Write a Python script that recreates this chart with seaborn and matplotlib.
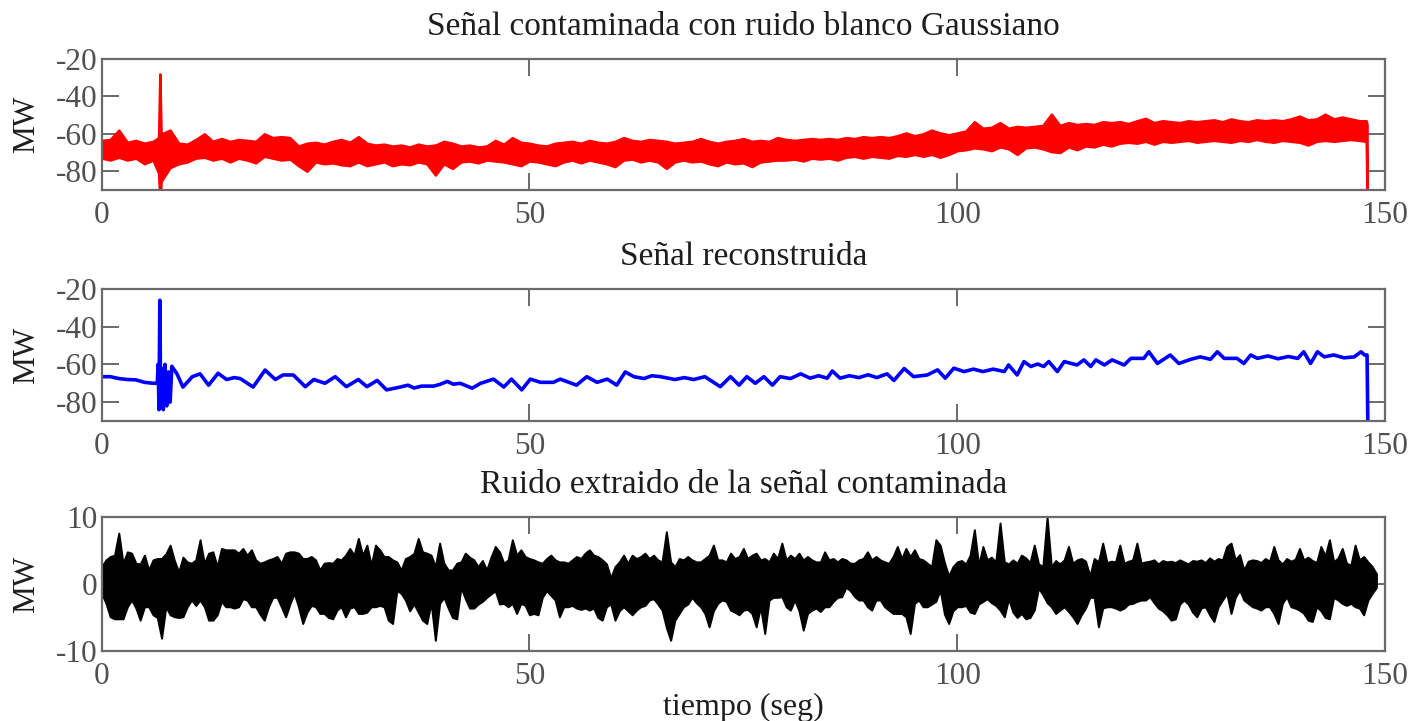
import numpy as np
import pandas as pd
import matplotlib
matplotlib.use("Agg")
import matplotlib.pyplot as plt
import seaborn as sns

# ---------------- data ----------------
titles = ["Señal contaminada con ruido blanco Gaussiano",
          "Señal reconstruida",
          "Ruido extraido de la señal contaminada"]
x_ticks = [0, 50, 100, 150]
y_ticks_signal = [-80, -60, -40, -20]
y_ticks_noise = [-10, 0, 10]

# contaminated signal (red): upper / lower envelope, 1-s grid (t = 0..147)
red_t = list(range(148))
red_hi = [-63.5, -63, -58, -64.5, -63.5, -65, -64, -60, -58, -65,
          -65.5, -63, -60, -64, -62.5, -64, -63, -63.5, -64, -60,
          -62, -61.5, -62, -66.5, -65, -64.5, -65.5, -64, -63, -64.5,
          -61.5, -65, -66, -65.5, -66.5, -66, -67, -65.5, -66.5, -66,
          -64, -65, -66.5, -66, -67, -66.5, -63.5, -65.5, -62, -64.5,
          -65, -66, -66.5, -65, -64.5, -64, -65, -63.5, -64.5, -65,
          -64, -62, -63.5, -64, -63, -63.5, -64, -65, -64.5, -64,
          -62.5, -64, -65, -64, -63.5, -62.5, -64, -63.5, -64, -62,
          -63, -63.5, -63, -62.5, -63, -62.5, -63, -62, -62.5, -61.5,
          -62, -61.5, -62, -61, -59.5, -61, -60, -58, -59.5, -60.5,
          -59.5, -58.5, -53.5, -57, -56.5, -54, -57, -56, -56.5, -56,
          -55.5, -49.5, -55.5, -54, -55, -54.5, -55, -53.5, -54, -53.5,
          -54.5, -53, -51.7, -54, -53, -53.5, -54, -53, -53.5, -53,
          -52.5, -53.5, -52, -53, -53.5, -52.5, -53, -52.5, -53, -52,
          -50.5, -52.5, -52, -49.5, -52, -51, -52, -53]
red_lo = [-73, -74, -72.5, -74, -73, -76, -74, -85, -78, -76,
          -75, -73, -72.5, -74, -73, -75, -73, -74, -75.5, -72,
          -73, -74, -73.5, -77, -80, -75, -76, -75.5, -76.5, -77,
          -75, -77, -76, -75, -77, -76, -76.5, -75, -76, -82,
          -76, -78.5, -75, -74.5, -75.5, -74, -74.5, -75, -76, -77,
          -74.5, -75, -76, -77, -75, -74, -75.5, -74, -75, -76,
          -77.5, -74, -73.5, -75, -74, -75, -78.5, -75, -74, -75,
          -74.5, -76, -77, -75, -76, -75.5, -77.5, -75, -74.5, -74,
          -74, -73.5, -74.5, -73, -73.5, -73, -74, -72.5, -72, -73,
          -72, -72.5, -73, -71.5, -72, -71, -72, -71, -72.5, -71,
          -69, -68.5, -67.5, -68, -69, -67, -68, -71, -67.5, -67,
          -68, -69.5, -70, -67, -68.5, -66.5, -67, -65.5, -66.5, -65,
          -64.5, -65, -64, -65.5, -64, -64.5, -64, -63.5, -64.5, -64,
          -63.5, -64, -64.5, -63.5, -64, -63, -64, -64.5, -63.5, -64,
          -64.5, -66, -64, -63.5, -64, -63.5, -63, -63.5]
# transient spike and final drop of the red signal
red_spike_t = [6.65, 6.8, 6.95, 147.8, 147.9]
red_spike_hi = [-62, -28, -60, -53, -55]
red_spike_lo = [-81, -95, -86, -64, -95]

# reconstructed signal (blue)
blue_t = [0.0, 1.0, 2.0, 3.0, 4.0, 5.0, 6.0, 6.5, 6.6, 6.7, 6.8, 6.9, 7.0, 7.2,
          7.4, 7.6, 7.8, 8.0, 8.2, 8.8, 9.5, 10.6, 11.5, 12.5, 13.6, 14.6, 15.5,
          16.2, 17.7, 19.1, 20.3, 21.2, 22.4, 23.8, 24.8, 26.1, 27.3, 28.6, 30.0,
          31.0, 32.2, 33.3, 34.9, 35.8, 36.5, 37.4, 38.8, 39.6, 40.4, 41.1, 41.9,
          43.3, 44.3, 45.8, 47.0,
          47.9, 49.1, 50.1, 51.3, 52.8, 53.6, 55.5, 56.7, 57.9, 59.1, 60.2, 61.2,
          62.2, 63.4, 64.3, 65.3, 67.0, 68.1, 69.2, 70.5, 72.3, 73.5, 74.5, 75.4,
          76.4, 77.4, 78.4, 79.3, 80.5, 81.7, 82.8, 83.8, 84.8, 85.4, 86.3, 87.4,
          88.5, 89.6, 90.6, 91.8, 92.6, 93.8, 94.9,
          96.5, 97.7, 98.6, 99.6, 100.8, 101.9, 103.0, 104.2, 105.5, 106.0, 107.0,
          107.8, 108.6, 109.4,
          110.1, 110.7, 111.7, 112.5, 114.0, 114.8, 115.6, 116.2, 117.2, 118.1,
          119.5, 120.3, 121.8, 122.4, 123.4, 124.9, 125.9, 127.3, 128.4, 129.6,
          130.4, 131.2, 132.7, 133.5, 134.3, 135.1, 136.3, 137.5, 138.7, 139.8,
          140.5, 141.3, 142.1, 142.9, 144.0, 145.2, 146.4, 147.2, 147.6, 147.9,
          148.0]
blue_mw = [-66.5, -66.5, -67.5, -68.0, -68.2, -69.5, -70.0, -70.0, -60, -84, -26,
           -82, -62, -84, -60, -82, -64, -80, -61, -65, -72, -66.5, -65, -71,
           -64.7, -68, -67, -67.5, -72, -63, -68, -65.6, -65.6, -71.8, -68, -70,
           -66.5, -71.8, -68, -71.8, -68.5, -73.5, -72, -71, -72.5, -71.5, -71.5,
           -70.5, -69, -70.5, -70,
           -72.6, -70, -67.8, -72, -67.8, -73.5, -67.8, -69.5, -69.5, -67.8, -71,
           -66.5, -69.5, -67.8, -71, -64, -66.5, -67.5, -66, -66.5, -68, -67,
           -68, -66.5, -71.8, -66.5, -71, -66.5, -70, -66.5, -71, -66.5, -67.5,
           -65, -67.3, -66, -67.3, -63.5, -67.3, -66, -67, -65.5, -67, -65,
           -68.5, -62.2, -66.5, -65.6, -62.9, -67.3, -62, -63.8, -62.5, -63.8,
           -62.5, -63.8, -60.3, -65.6, -58.5, -61.1, -59.8, -61.1, -58.5, -63.8,
           -58.5, -60.3, -57.6, -61.1, -57.6, -60.3, -57.6, -60.3, -56.8, -56.8,
           -53.3, -59.5, -55, -59.5, -57.3, -56, -57.3, -53.3, -56.8, -56.8, -59.5,
           -55, -56.8, -55.5, -57, -55.8, -56.8, -53.3, -59.5, -53.3, -56, -55,
           -56.5, -56, -53.3, -55, -55, -95]

# extracted noise (black): upper / lower envelope on a 0.5-s grid, 0..149 s
noise_t = np.arange(0, 149.01, 0.5)
noise_hi = [2.6, 3.6, 4.1, 4.3, 7.6, 3.1, 4.8, 4.6, 3.1, 3.0,
            4.3, 2.1, 3.6, 3.8, 3.8, 4.5, 5.8, 3.5, 1.8, 4.0,
            3.3, 3.1, 3.6, 6.6, 3.1, 4.6, 4.8, 2.6, 5.3, 5.1,
            5.1, 5.1, 4.6, 5.3, 4.3, 5.1, 3.6, 3.1, 3.3, 3.6,
            3.8, 4.1, 3.1, 4.6, 4.8, 4.8, 4.6, 3.8, 3.8, 4.1,
            3.6, 2.1, 3.1, 3.2, 3.1, 3.8, 3.6, 4.3, 5.3, 4.3,
            6.8, 4.3, 5.8, 2.8, 5.8, 5.1, 4.1, 4.1, 3.6, 3.3,
            2.1, 3.8, 4.1, 4.6, 6.8, 4.8, 4.6, 4.3, 2.6, 6.1,
            3.1, 2.1, 2.1, 3.1, 3.3, 4.6, 4.0, 3.6, 2.6, 3.5,
            2.1, 4.0, 5.6, 4.8, 3.1, 3.6, 6.6, 4.3, 5.1, 4.1,
            3.8, 3.6, 3.3, 3.1, 3.8, 4.3, 3.6, 3.3, 3.3, 3.1,
            3.6, 4.1, 3.8, 4.6, 5.1, 4.3, 4.1, 3.6, 3.0, 0.9,
            2.6, 3.3, 4.3, 3.1, 4.3, 3.8, 4.1, 4.6, 3.8, 4.3,
            3.6, 3.3, 7.8, 3.3, 2.6, 3.8, 3.6, 4.1, 3.6, 3.3,
            3.3, 3.8, 4.3, 5.8, 3.6, 3.6, 3.3, 4.6, 3.8, 4.1,
            5.3, 3.8, 4.3, 4.6, 3.6, 3.8, 3.3, 4.6, 3.8, 6.1,
            3.6, 4.3, 3.8, 4.6, 3.6, 4.1, 3.6, 3.3, 3.3, 4.8,
            3.6, 3.8, 3.3, 3.8, 3.6, 3.1, 3.1, 3.6, 3.8, 4.8,
            3.6, 4.1, 3.6, 3.3, 3.1, 4.1, 5.6, 3.8, 5.3, 4.1,
            5.1, 3.8, 3.6, 3.1, 2.6, 6.6, 5.8, 3.2, 1.2, 2.6,
            3.3, 3.5, 3.0, 4.3, 8.1, 2.8, 5.6, 3.6, 4.0, 3.3,
            9.1, 3.3, 3.0, 3.6, 3.1, 4.3, 3.9, 3.2, 5.8, 3.0,
            2.6, 10.0, 2.6, 3.5, 3.0, 3.6, 5.6, 3.1, 3.6, 3.8,
            3.4, 1.2, 3.8, 3.3, 6.1, 3.2, 3.4, 3.3, 5.8, 3.1,
            3.4, 3.6, 6.1, 3.1, 3.3, 3.4, 3.6, 3.0, 3.5, 3.3,
            3.4, 3.2, 3.6, 3.3, 3.0, 3.5, 3.4, 3.6, 3.2, 3.9,
            3.4, 3.8, 3.6, 5.6, 6.1, 3.6, 4.4, 2.1, 3.4, 3.6,
            3.5, 3.2, 3.8, 3.4, 5.6, 3.6, 3.0, 3.8, 3.4, 3.7,
            5.3, 3.6, 4.0, 3.5, 3.2, 5.6, 4.2, 6.6, 3.3, 3.9,
            5.3, 3.1, 2.8, 5.8, 3.6, 4.1, 3.3, 2.6, 1.5]
noise_lo = [-1.4, -2.9, -4.9, -5.2, -5.2, -5.2, -3.4, -2.4, -3.6, -5.4,
            -3.4, -3.4, -4.6, -5.0, -8.1, -3.4, -4.6, -4.9, -5.0, -4.9,
            -3.4, -2.4, -3.2, -2.4, -3.4, -5.4, -5.4, -4.6, -2.6, -3.4,
            -3.4, -3.6, -3.4, -2.2, -2.4, -3.4, -3.4, -4.5, -5.4, -3.4,
            -2.0, -2.0, -3.4, -4.9, -3.0, -1.4, -3.4, -5.9, -4.2, -3.2,
            -3.4, -4.4, -4.4, -5.0, -5.2, -3.9, -3.4, -4.9, -3.6, -3.4,
            -4.4, -4.4, -4.2, -3.4, -3.4, -3.2, -3.4, -5.4, -5.9, -1.0,
            -1.4, -2.4, -4.0, -3.0, -4.2, -5.4, -5.9, -2.8, -8.4, -2.9,
            -2.0, -3.6, -5.0, -5.2, -0.5, -2.2, -3.6, -3.6, -3.0, -2.6,
            -2.0, -1.5, -1.0, -3.0, -2.9, -3.4, -2.9, -4.4, -2.9, -3.2,
            -4.6, -4.4, -4.6, -2.0, -1.0, -1.7, -2.4, -4.9, -3.4, -3.4,
            -3.2, -3.6, -3.8, -3.6, -3.9, -3.6, -5.0, -5.4, -3.4, -3.0,
            -5.4, -4.0, -3.4, -4.0, -4.6, -3.9, -3.4, -3.2, -2.4, -2.2,
            -3.0, -3.9, -6.5, -8.4, -5.4, -4.4, -3.4, -3.0, -2.0, -2.8,
            -3.4, -4.4, -6.4, -4.0, -2.9, -2.4, -2.6, -3.9, -4.2, -4.6,
            -3.9, -3.8, -4.4, -6.4, -3.4, -7.4, -2.4, -2.0, -2.0, -1.9,
            -3.4, -3.9, -2.4, -4.0, -6.9, -4.4, -3.9, -3.6, -4.1, -3.4,
            -3.4, -2.6, -2.0, -1.9, -0.5, -1.0, -1.9, -2.4, -2.4, -3.4,
            -3.9, -2.4, -2.4, -3.4, -3.9, -4.4, -4.4, -4.4, -4.9, -7.4,
            -2.9, -2.4, -3.4, -3.4, -3.0, -2.6, -0.9, -4.5, -5.9, -4.0,
            -3.4, -3.4, -3.2, -4.2, -4.4, -3.0, -2.6, -2.2, -2.8, -3.2,
            -3.9, -4.9, -2.2, -4.2, -5.0, -4.4, -5.2, -5.0, -3.9, -0.6,
            -1.6, -2.8, -3.4, -4.4, -3.9, -3.4, -4.1, -4.9, -5.9, -4.6,
            -3.6, -2.0, -2.0, -6.4, -3.6, -3.4, -3.4, -3.6, -3.9, -3.6,
            -3.0, -2.9, -2.6, -2.4, -2.4, -1.9, -2.8, -3.6, -4.0, -4.6,
            -5.4, -5.2, -3.0, -2.4, -3.0, -4.2, -4.9, -3.6, -3.4, -4.6,
            -5.6, -3.4, -2.4, -1.4, -4.4, -2.0, -0.9, -2.4, -2.9, -3.4,
            -3.6, -3.9, -3.4, -3.4, -4.4, -5.9, -2.9, -1.9, -3.4, -3.6,
            -3.9, -4.4, -5.4, -5.6, -3.4, -4.0, -5.0, -5.2, -2.0, -2.4,
            -2.9, -3.2, -2.9, -3.4, -3.6, -4.6, -2.4, -1.4, -0.5]

# ---------------- style ----------------
sns.set_style("ticks")
plt.rcParams['font.family'] = ['Liberation Serif', 'DejaVu Serif']
plt.rcParams['axes.unicode_minus'] = False

SPINE = '#6a6a6a'
TICKLAB = '#505050'
TXT = '#1e1e1e'
TICK_FS = 22.5
TITLE_FS = 24
LAB_FS = 22.5

fig = plt.figure(figsize=(14.12, 7.21), dpi=100)
L, W = 0.0720, 0.9089
ax1 = fig.add_axes([L, 0.7365, W, 0.1817])
ax2 = fig.add_axes([L, 0.4161, W, 0.1831])
ax3 = fig.add_axes([L, 0.0971, W, 0.1859])


def band_frame(t, hi, lo):
    t = np.asarray(t, dtype=float)
    return pd.DataFrame({"t": np.concatenate([t, t]),
                         "MW": np.concatenate([np.asarray(hi, float), np.asarray(lo, float)])})


red_df = pd.concat([band_frame(red_t, red_hi, red_lo),
                    band_frame(red_spike_t, red_spike_hi, red_spike_lo)], ignore_index=True)
noise_df = band_frame(noise_t, noise_hi, noise_lo)
blue_df = pd.DataFrame({"t": blue_t, "MW": blue_mw})

sns.lineplot(data=red_df, x="t", y="MW", errorbar=("pi", 100), color="#ff0000",
             linewidth=1.0, err_kws=dict(alpha=1, edgecolor="#ff0000", linewidth=1.8),
             ax=ax1)
sns.lineplot(data=blue_df, x="t", y="MW", color="#0000ff", linewidth=2.6, ax=ax2)
sns.lineplot(data=noise_df, x="t", y="MW", errorbar=("pi", 100), color="#000000",
             linewidth=1.0, err_kws=dict(alpha=1, edgecolor="#000000", linewidth=1.4),
             ax=ax3)

for ax, title, yt, ylim in [(ax1, titles[0], y_ticks_signal, (-90, -20)),
                            (ax2, titles[1], y_ticks_signal, (-90, -20)),
                            (ax3, titles[2], y_ticks_noise, (-10, 10))]:
    ax.set_xlim(0, 150)
    ax.set_ylim(*ylim)
    ax.set_xticks(x_ticks)
    ax.set_yticks(yt)
    ax.set_xlabel("")
    ax.set_ylabel("MW", fontsize=LAB_FS, color=TXT)
    ax.yaxis.set_label_coords(-0.047, 0.5)
    ax.set_title(title, fontsize=TITLE_FS, color=TXT, pad=17)
    ax.tick_params(direction='in', length=12, width=1.4, top=True, right=True,
                   color=SPINE, labelcolor=TICKLAB, labelsize=TICK_FS)
    ax.tick_params(axis='x', pad=8)
    ax.tick_params(axis='y', pad=3)
    for s in ax.spines.values():
        s.set_color(SPINE)
        s.set_linewidth(1.6)
    ax.set_facecolor('white')

ax3.set_xlabel("tiempo (seg)", fontsize=23, color=TXT)
ax3.xaxis.set_label_coords(0.5, -0.31)

fig.savefig("out.png", dpi=100, facecolor='white')
